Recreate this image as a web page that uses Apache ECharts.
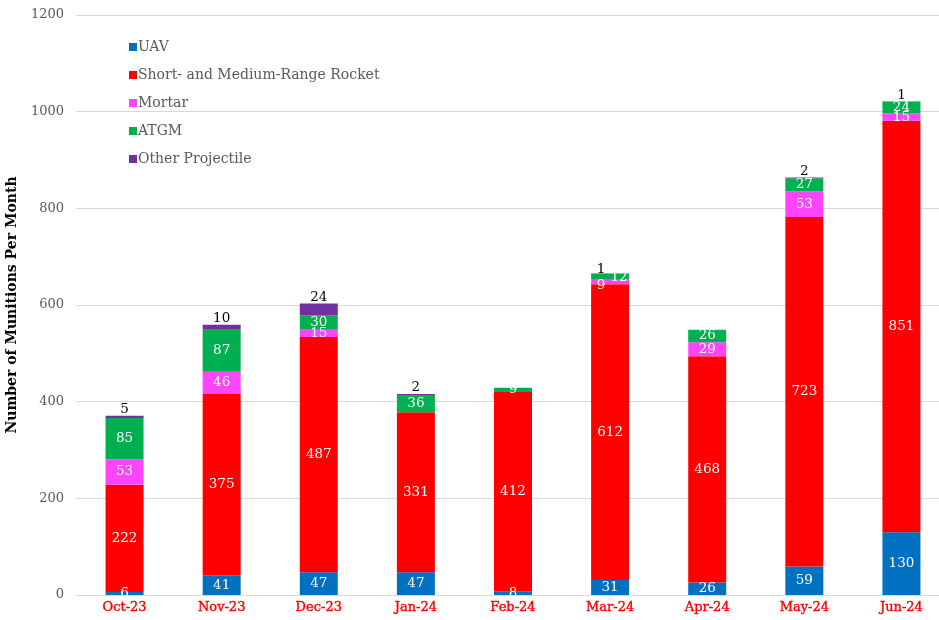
<!DOCTYPE html>
<html><head><meta charset="utf-8">
<script src="https://cdn.jsdelivr.net/npm/echarts@6/dist/echarts.min.js"></script>
<style>html,body{margin:0;padding:0;background:#fff}#c{width:939px;height:620px}</style>
</head><body><div id="c"></div>
<script>
const categories = ['Oct-23','Nov-23','Dec-23','Jan-24','Feb-24','Mar-24','Apr-24','May-24','Jun-24'];
const uav =    [6, 41, 47, 47, 8, 31, 26, 59, 130];
const rocket = [222, 375, 487, 331, 412, 612, 468, 723, 851];
const mortar = [53, 46, 15, 0, 0, 9, 29, 53, 15];
const atgm =   [85, 87, 30, 36, 9, 12, 26, 27, 24];
const other =  [5, 10, 24, 2, 0, 1, 0, 2, 1];
const yTicks = [0, 200, 400, 600, 800, 1000, 1200];

const FONT = 'DejaVu Serif';
// label nudges to mimic crowded-label placement in the reference (Mar-24)
const nudges = { Mortar: {5: [-9, 3]}, ATGM: {5: [9, 1]}, 'Other Projectile': {5: [-9, 2]} };
function mk(name, data, color, top) {
  const nd = nudges[name] || {};
  return {
    name, type: 'bar', stack: 's', barWidth: 38,
    data: data.map((v, i) => nd[i] ? { value: v, label: { offset: nd[i] } } : v),
    itemStyle: { color },
    label: {
      show: true,
      position: top ? 'top' : 'inside',
      distance: -1,
      color: top ? '#000' : '#fff',
      fontFamily: FONT, fontSize: top ? 13.5 : 13.5,
      formatter: p => p.value ? String(p.value) : ''
    }
  };
}
const chart = echarts.init(document.getElementById('c'), null, {renderer: 'canvas'});
chart.setOption({
  animation: false,
  textStyle: { fontFamily: FONT },
  grid: { left: 76, right: -11, top: 15, bottom: 25, outerBoundsMode: 'none', containLabel: false },
  legend: {
    orient: 'vertical', left: 124, top: 35, itemWidth: 8, itemHeight: 8, itemGap: 14,
    icon: 'rect',
    textStyle: { fontFamily: FONT, fontSize: 14, color: '#595959', padding: [0,0,0,-4] },
    data: ['UAV','Short- and Medium-Range Rocket','Mortar','ATGM','Other Projectile']
  },
  xAxis: {
    type: 'category', data: categories,
    axisLine: { lineStyle: { color: '#d9d9d9' } },
    axisTick: { show: false },
    axisLabel: { color: '#ff0000', fontFamily: FONT, fontSize: 13, margin: 6,
      textBorderColor: '#ff0000', textBorderWidth: 0.4 }
  },
  yAxis: {
    type: 'value', min: yTicks[0], max: yTicks[yTicks.length-1], interval: 200,
    name: 'Number of Munitions Per Month', nameLocation: 'middle', nameGap: 57, nameRotate: 90,
    nameTextStyle: { fontFamily: FONT, fontSize: 14, fontWeight: 'bold', color: '#000' },
    axisLabel: { color: '#595959', fontFamily: FONT, fontSize: 13, margin: 12, formatter: v => String(v) },
    splitLine: { lineStyle: { color: '#d9d9d9' } },
    axisLine: { show: false }, axisTick: { show: false }
  },
  series: [
    mk('UAV', uav, '#0070C0'),
    mk('Short- and Medium-Range Rocket', rocket, '#FF0000'),
    mk('Mortar', mortar, '#FF44FF'),
    mk('ATGM', atgm, '#00B050'),
    mk('Other Projectile', other, '#7030A0', true)
  ]
});
</script></body></html>
